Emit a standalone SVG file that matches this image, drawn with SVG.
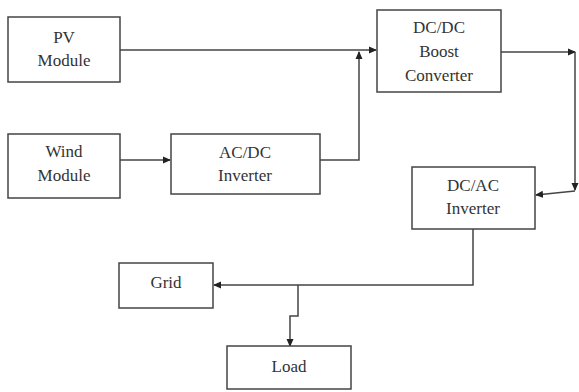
<svg xmlns="http://www.w3.org/2000/svg" width="579" height="392" viewBox="0 0 579 392">
<style>
.box{fill:#fff;stroke:#444;stroke-width:1.5}
.t{font-size:17px;fill:#333;text-anchor:middle}
.c{fill:none;stroke:#444;stroke-width:1.5}
</style>
<defs>
<marker id="ah" markerWidth="8" markerHeight="8" refX="7" refY="4" orient="auto" markerUnits="userSpaceOnUse">
<path d="M0,0.5 L8,4 L0,7.5 Z" fill="#222"/>
</marker>
</defs>
<rect width="579" height="392" fill="#fff"/>
<g id="connectors">
<path class="c" d="M120,50 H376" marker-end="url(#ah)"/>
<path class="c" d="M120,160 H170" marker-end="url(#ah)"/>
<path class="c" d="M320,160 H359 V52" marker-end="url(#ah)"/>
<path class="c" d="M501,52 H575" marker-end="url(#ah)"/>
<path class="c" d="M575,52 V190" marker-end="url(#ah)"/>
<path class="c" d="M575,191 L536,195" marker-end="url(#ah)"/>
<path class="c" d="M473,229 V285 H214" marker-end="url(#ah)"/>
<path class="c" d="M298,285 V316 H290 V346" marker-end="url(#ah)"/>
</g>
<g font-family="Liberation Serif, DejaVu Serif, serif">
<g id="pv"><rect class="box" x="8" y="17" width="112" height="65"/><text class="t" x="64" y="43">PV</text><text class="t" x="64" y="66">Module</text></g>
<g id="wind"><rect class="box" x="8" y="134" width="112" height="64"/><text class="t" x="64" y="157">Wind</text><text class="t" x="64" y="181">Module</text></g>
<g id="acdc"><rect class="box" x="171" y="134" width="149" height="60"/><text class="t" x="245" y="158">AC/DC</text><text class="t" x="245" y="181">Inverter</text></g>
<g id="dcdc"><rect class="box" x="377" y="10" width="124" height="82"/><text class="t" x="439" y="33">DC/DC</text><text class="t" x="439" y="57">Boost</text><text class="t" x="439" y="81">Converter</text></g>
<g id="dcac"><rect class="box" x="412" y="167" width="123" height="62"/><text class="t" x="473" y="191">DC/AC</text><text class="t" x="473" y="214">Inverter</text></g>
<g id="grid"><rect class="box" x="119" y="263" width="94" height="45"/><text class="t" x="166" y="288">Grid</text></g>
<g id="load"><rect class="box" x="227" y="346" width="124" height="43"/><text class="t" x="289" y="372">Load</text></g>
</g>
</svg>
